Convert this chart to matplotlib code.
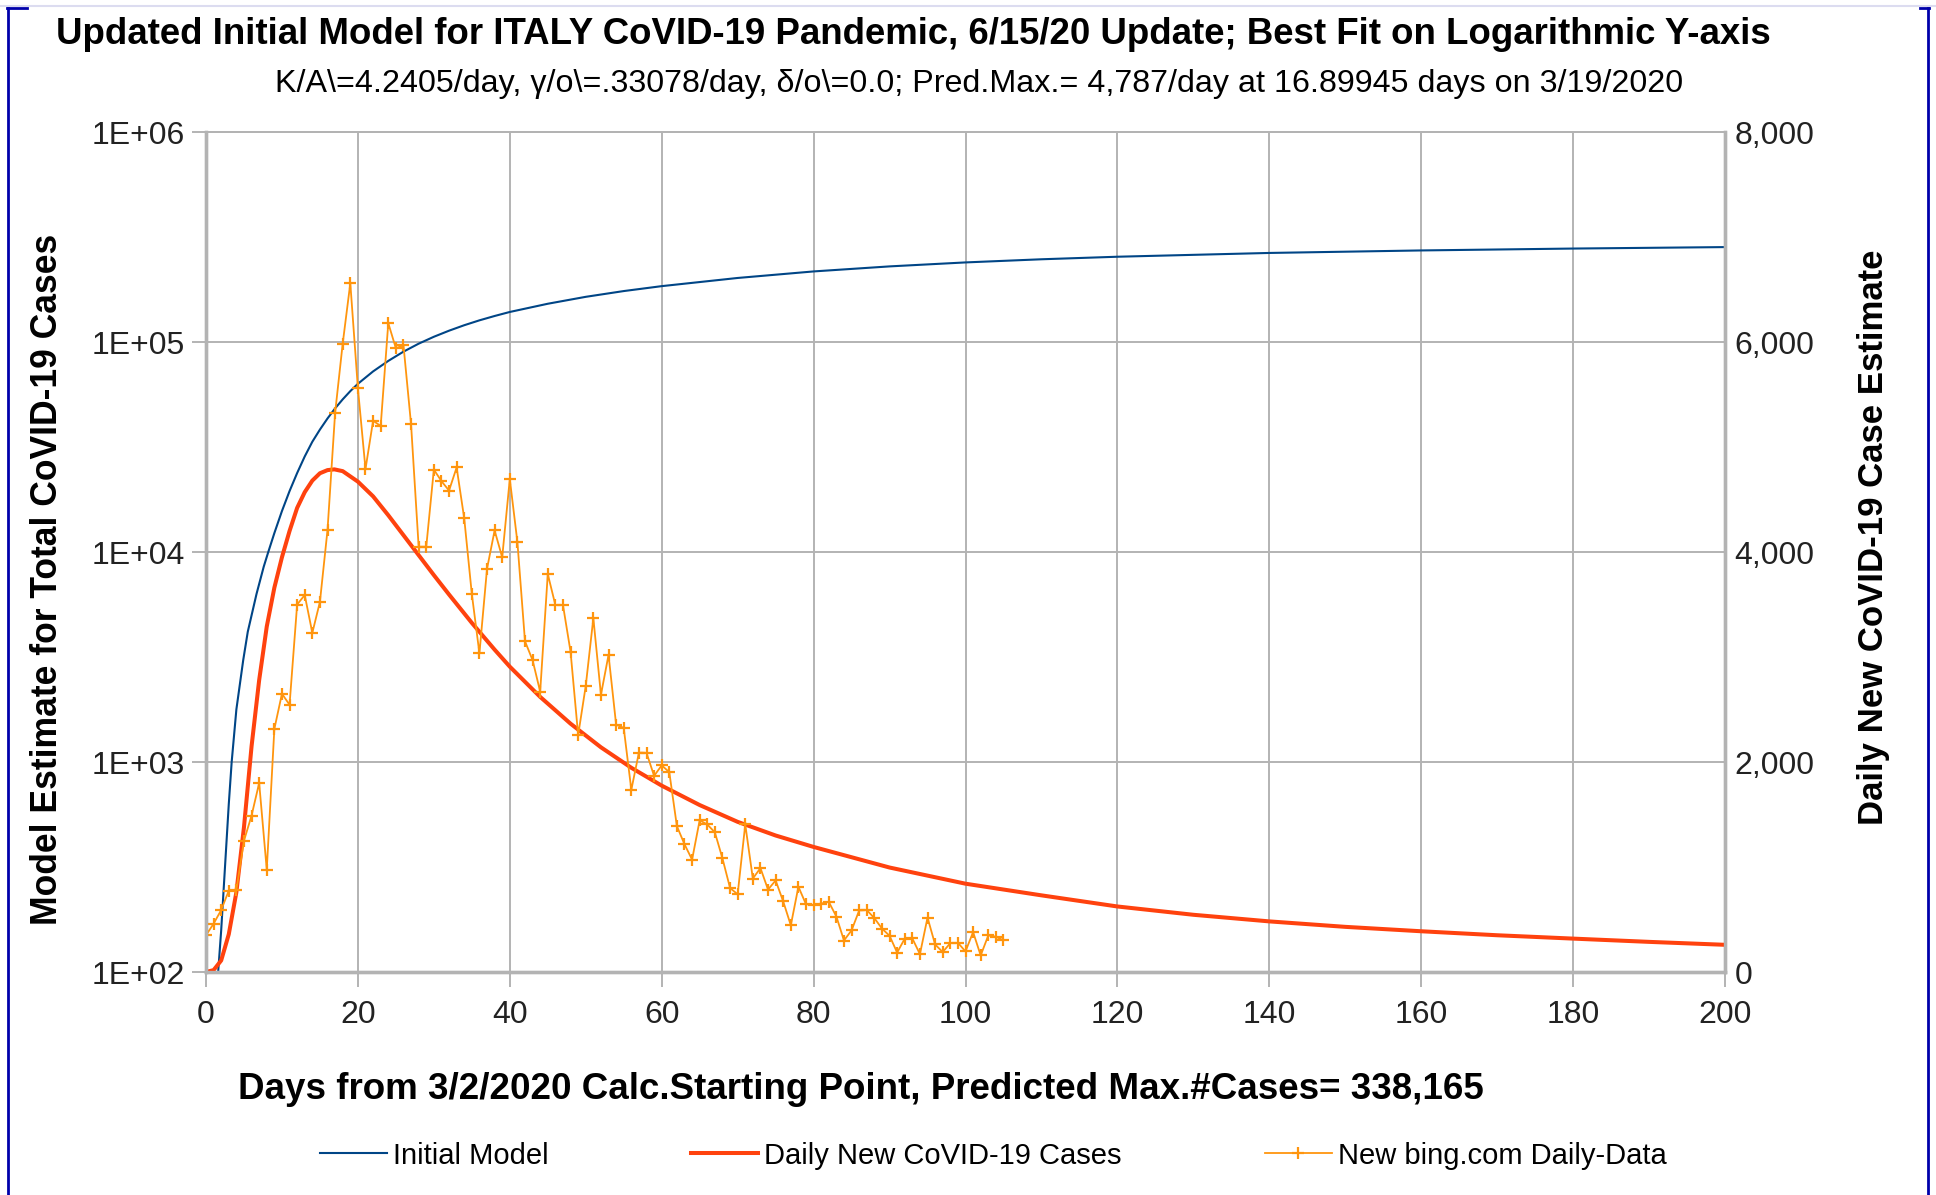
import matplotlib
matplotlib.use('Agg')
import matplotlib.pyplot as plt
from matplotlib.lines import Line2D

# Initial model, total cases (left log axis)
model_days = [1.6, 2, 2.5, 3, 3.38, 4, 4.9, 5.5, 6.65, 7.6, 8.2, 9, 10, 11, 12, 13, 14, 15,
              16, 17, 18, 19, 20, 22, 24, 26, 28, 30, 32, 34, 36, 38, 40, 45, 50, 55, 60,
              70, 80, 90, 100, 110, 120, 140, 160, 180, 200]
model_total = [100, 158, 316, 631, 1000, 1780, 3055, 4170, 6310, 8510, 10000, 12300, 15670,
               19500, 23770, 28510, 33500, 38280, 43250, 48310, 53330, 58350, 63240, 72440,
               81280, 89950, 98180, 105900, 113200, 120200, 126800, 133000, 139000, 152100,
               164100, 174800, 184500, 201800, 216800, 229100, 239300, 247700, 254700,
               265500, 272900, 278600, 283100]

# Daily new cases from the model (right axis)
daily_days = [0, 1, 2, 3, 4, 5, 6, 7, 8, 9, 10, 11, 12, 13, 14, 15, 16, 16.9, 18, 20, 22,
              24, 26, 28, 30, 32, 35, 38, 40, 44, 48, 52, 56, 60, 65, 70, 75, 80, 90, 100,
              110, 120, 130, 140, 150, 160, 170, 180, 190, 200]
daily_model = [0, 18, 110, 360, 760, 1380, 2150, 2780, 3290, 3660, 3950, 4200, 4420, 4570,
               4680, 4750, 4780, 4787, 4770, 4670, 4530, 4350, 4160, 3970, 3780, 3595, 3325,
               3070, 2908, 2620, 2365, 2140, 1945, 1775, 1590, 1430, 1300, 1191, 995, 841,
               730, 624, 545, 482, 430, 388, 350, 318, 287, 259]

# bing.com daily data, one value per day from day 0
bing_daily = [350, 460, 590, 775, 780, 1250, 1490, 1800, 975, 2315,
              2650, 2545, 3500, 3590, 3230, 3525, 4210, 5325, 5985, 6560,
              5560, 4790, 5250, 5200, 6180, 5940, 5970, 5215, 4050, 4050,
              4785, 4675, 4585, 4805, 4320, 3600, 3035, 3840, 4205, 3950,
              4695, 4095, 3150, 2970, 2670, 3790, 3495, 3495, 3050, 2256,
              2725, 3370, 2640, 3020, 2355, 2325, 1735, 2090, 2087, 1868,
              1968, 1903, 1389, 1217, 1070, 1445, 1405, 1330, 1082, 800,
              740, 1405, 890, 990, 785, 872, 672, 445, 812, 645,
              640, 652, 668, 528, 300, 397, 586, 590, 513, 414,
              345, 185, 318, 320, 170, 518, 262, 190, 275, 278,
              196, 380, 158, 348, 336, 301]
bing_days = list(range(len(bing_daily)))

x_ticks = [0, 20, 40, 60, 80, 100, 120, 140, 160, 180, 200]
left_ticks = [1e2, 1e3, 1e4, 1e5, 1e6]
left_labels = ['1E+02', '1E+03', '1E+04', '1E+05', '1E+06']
right_ticks = [0, 2000, 4000, 6000, 8000]
right_labels = ['0', '2,000', '4,000', '6,000', '8,000']

BLUE = '#004586'
RED = '#ff420e'
ORANGE = '#ff950e'
GRID = '#b3b3b3'

plt.rcParams['font.family'] = ['Liberation Sans', 'DejaVu Sans']

fig = plt.figure(figsize=(19.36, 11.95), dpi=100)
ax = fig.add_axes([206 / 1936, 1 - 972 / 1195, (1725 - 206) / 1936, (972 - 132) / 1195])
ax2 = ax.twinx()

ax.plot(model_days, model_total, color=BLUE, lw=1.5, label='Initial Model')
ax2.plot(daily_days, daily_model, color=RED, lw=2.9, label='Daily New CoVID-19 Cases')
ax2.plot(bing_days, bing_daily, color=ORANGE, lw=1.3, marker='+', ms=8, mew=1.6,
         label='New bing.com Daily-Data')

ax.set_yscale('log')
ax.set_xlim(0, 200)
ax.set_ylim(1e2, 1e6)
ax2.set_ylim(0, 8000)
ax.minorticks_off()

ax.set_xticks(x_ticks)
ax.set_yticks(left_ticks)
ax.set_yticklabels(left_labels)
ax2.set_yticks(right_ticks)
ax2.set_yticklabels(right_labels)

ax.grid(True, color=GRID, lw=1.4)
ax.set_axisbelow(True)
for a in (ax, ax2):
    for side in ('left', 'right', 'bottom'):
        a.spines[side].set_color(GRID)
        a.spines[side].set_linewidth(2.4)
    a.spines['top'].set_color(GRID)
    a.spines['top'].set_linewidth(1.4)

ax.tick_params(axis='y', length=10, width=1.4, color=GRID, pad=5, labelsize=23,
               labelcolor='#222222')
ax.tick_params(axis='x', length=11, width=1.4, color=GRID, pad=9, labelsize=23,
               labelcolor='#222222')
ax2.tick_params(axis='y', length=0, pad=7, labelsize=23, labelcolor='#222222')

fig.text(0.472, 0.971, 'Updated Initial Model for ITALY CoVID-19 Pandemic, 6/15/20 Update; '
         'Best Fit on Logarithmic Y-axis', ha='center', va='center', fontsize=26.4,
         fontweight='bold')
fig.text(0.5057, 0.9297, 'K/A\\=4.2405/day, \u03b3/o\\=.33078/day, \u03b4/o\\=0.0; '
         'Pred.Max.= 4,787/day at 16.89945 days on 3/19/2020', ha='center', va='center',
         fontsize=23.2)
fig.text(0.4447, 0.0879, 'Days from 3/2/2020 Calc.Starting Point, Predicted Max.#Cases= 338,165',
         ha='center', va='center', fontsize=26.5, fontweight='bold')
fig.text(0.0243, 0.5155, 'Model Estimate for Total CoVID-19 Cases', rotation=90,
         ha='center', va='center', fontsize=25.6, fontweight='bold')
fig.text(0.9675, 0.5506, 'Daily New CoVID-19 Case Estimate', rotation=90,
         ha='center', va='center', fontsize=25, fontweight='bold')

handles = ax.get_lines() + ax2.get_lines()
fig.legend(handles, [h.get_label() for h in handles], loc='center',
           bbox_to_anchor=(0.513, 0.033), ncol=3, frameon=False,
           prop={'size': 21}, handlelength=2.3, handletextpad=0.2,
           columnspacing=4.9)

# outer frame
frame_blue = '#0000aa'
fig.add_artist(Line2D([0, 1], [1 - 6 / 1195] * 2, color='#dcdcf0', lw=1.5))
fig.add_artist(Line2D([8 / 1936, 8 / 1936], [0, 1 - 8 / 1195], color=frame_blue, lw=2.0))
fig.add_artist(Line2D([1928 / 1936, 1928 / 1936], [0, 1 - 8 / 1195], color=frame_blue, lw=2.0))
fig.add_artist(Line2D([7 / 1936, 27 / 1936], [1 - 8 / 1195] * 2, color=frame_blue, lw=2.0))
fig.add_artist(Line2D([1920 / 1936, 1929 / 1936], [1 - 8 / 1195] * 2, color=frame_blue, lw=2.0))

fig.savefig('out.png', dpi=100)
